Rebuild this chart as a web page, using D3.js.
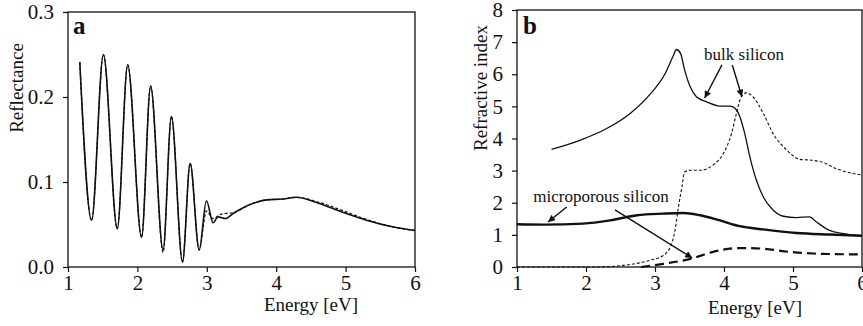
<!DOCTYPE html>
<html>
<head>
<meta charset="utf-8">
<script src="https://cdn.jsdelivr.net/npm/d3@7"></script>
<style>
  html, body { margin: 0; padding: 0; background: #fff; }
  svg { display: block; }
  svg text { font-family: "Liberation Serif", Tinos, "Times New Roman", Times, "DejaVu Serif", serif; }
</style>
</head>
<body>
<div id="chart"></div>
<script>
// Panel a: reflectance vs energy (solid = measured, dashed = fit)
var reflSolid = [
  [1.17, 0.241], [1.34, 0.055], [1.51, 0.250], [1.71, 0.045], [1.86, 0.238],
  [2.06, 0.035], [2.19, 0.213], [2.37, 0.020], [2.49, 0.177], [2.65, 0.006],
  [2.76, 0.122], [2.89, 0.020], [2.995, 0.078], [3.09, 0.052], [3.16, 0.059],
  [3.27, 0.057], [3.38, 0.063], [3.67, 0.075], [3.86, 0.079], [4.10, 0.080],
  [4.29, 0.082], [4.58, 0.076], [4.97, 0.064], [5.30, 0.055], [5.69, 0.047],
  [6.00, 0.043]
];
var reflDashed = [
  [1.17, 0.241], [1.34, 0.055], [1.51, 0.250], [1.71, 0.045], [1.86, 0.238],
  [2.06, 0.035], [2.19, 0.213], [2.37, 0.017], [2.49, 0.177], [2.65, 0.006],
  [2.76, 0.122], [2.89, 0.020], [2.995, 0.066], [3.09, 0.057], [3.20, 0.062],
  [3.38, 0.064], [3.67, 0.075], [3.86, 0.079], [4.10, 0.080], [4.29, 0.082],
  [4.58, 0.077], [4.97, 0.066], [5.30, 0.056], [5.69, 0.047], [6.00, 0.043]
];

// Panel b: refractive index n and extinction k
var bulkN = [
  [1.50, 3.66], [1.92, 3.95], [2.30, 4.31], [2.64, 4.78], [2.93, 5.38],
  [3.15, 6.03], [3.26, 6.55], [3.31, 6.77], [3.37, 6.65], [3.43, 6.13],
  [3.51, 5.61], [3.60, 5.30], [3.75, 5.14], [3.94, 5.01], [4.09, 5.01],
  [4.16, 4.94], [4.23, 4.68], [4.30, 4.16], [4.375, 3.43], [4.47, 2.70],
  [4.57, 2.18], [4.69, 1.82], [4.86, 1.58], [5.05, 1.54], [5.24, 1.56],
  [5.34, 1.40], [5.53, 1.14], [5.73, 1.04], [6.00, 0.97]
];
var bulkK = [
  [1.00, 0.00], [2.16, 0.00], [2.54, 0.05], [2.93, 0.21], [3.12, 0.36],
  [3.22, 0.62], [3.29, 1.14], [3.34, 1.87], [3.39, 2.49], [3.43, 2.96],
  [3.51, 3.01], [3.65, 3.01], [3.84, 3.17], [3.99, 3.53], [4.11, 4.16],
  [4.18, 4.78], [4.25, 5.30], [4.32, 5.42], [4.42, 5.30], [4.57, 4.78],
  [4.71, 4.16], [4.91, 3.64], [5.10, 3.35], [5.29, 3.32], [5.44, 3.25],
  [5.63, 3.06], [6.00, 2.86]
];
var microN = [
  [1.00, 1.33], [1.39, 1.32], [1.96, 1.35], [2.35, 1.45], [2.74, 1.61],
  [3.12, 1.66], [3.41, 1.68], [3.65, 1.61], [3.94, 1.45], [4.23, 1.27],
  [4.57, 1.17], [5.05, 1.06], [5.53, 1.01], [6.00, 0.97]
];
var microK = [
  [2.80, 0.00], [3.12, 0.10], [3.53, 0.26], [3.84, 0.47], [4.23, 0.59],
  [4.57, 0.57], [4.95, 0.47], [5.29, 0.42], [6.00, 0.39]
];

var energyTicks = [1, 2, 3, 4, 5, 6];
var reflTicks = [0, 0.1, 0.2, 0.3];
var indexTicks = [0, 1, 2, 3, 4, 5, 6, 7, 8];

// annotation arrows in data units: [x1, y1, x2, y2]
var bulkArrows = [[3.97, 6.29, 3.72, 5.26], [4.12, 6.29, 4.26, 5.30]];
var microArrows = [[1.72, 1.87, 1.45, 1.40], [2.42, 1.78, 3.54, 0.28]];

var SERIF = '"Liberation Serif", Tinos, "Times New Roman", Times, "DejaVu Serif", serif';
var W = 863, H = 326;
var svg = d3.select('#chart').append('svg')
  .attr('width', W).attr('height', H);
svg.append('rect').attr('width', W).attr('height', H).attr('fill', '#fff');

svg.append('defs').append('marker')
  .attr('id', 'arrow')
  .attr('viewBox', '0 0 10 10')
  .attr('refX', 10).attr('refY', 5)
  .attr('markerWidth', 9).attr('markerHeight', 7)
  .attr('markerUnits', 'userSpaceOnUse')
  .attr('orient', 'auto')
  .append('path').attr('d', 'M0,0L10,5L0,10z').attr('fill', '#111');

function drawFrame(x, y, ticksX, ticksY, fmtY) {
  var x0 = x.range()[0], x1 = x.range()[1];
  var y0 = y.range()[0], y1 = y.range()[1];
  svg.append('rect')
    .attr('x', x0).attr('y', y1)
    .attr('width', x1 - x0).attr('height', y0 - y1)
    .attr('fill', 'none').attr('stroke', '#111').attr('stroke-width', 1.3);

  var ax = svg.append('g').attr('transform', 'translate(0,' + y0 + ')')
    .call(d3.axisBottom(x).tickValues(ticksX).tickSize(5).tickPadding(3).tickFormat(d3.format('d')));
  var ay = svg.append('g').attr('transform', 'translate(' + x0 + ',0)')
    .call(d3.axisLeft(y).tickValues(ticksY).tickSize(5).tickPadding(9).tickFormat(fmtY));
  [ax, ay].forEach(function (a) {
    a.attr('font-family', SERIF).attr('font-size', 21);
    a.select('.domain').remove();
    a.selectAll('line').attr('stroke', '#111').attr('stroke-width', 1.2);
    a.selectAll('text').attr('fill', '#111');
  });
}

function drawLine(x, y, data, width, dash) {
  var line = d3.line()
    .x(function (d) { return x(d[0]); })
    .y(function (d) { return y(d[1]); })
    .curve(d3.curveMonotoneX);
  svg.append('path').datum(data)
    .attr('d', line)
    .attr('fill', 'none')
    .attr('stroke', '#111')
    .attr('stroke-width', width)
    .attr('stroke-dasharray', dash || null);
}

function drawArrows(x, y, arrows) {
  arrows.forEach(function (a) {
    svg.append('line')
      .attr('x1', x(a[0])).attr('y1', y(a[1]))
      .attr('x2', x(a[2])).attr('y2', y(a[3]))
      .attr('stroke', '#111').attr('stroke-width', 1.4)
      .attr('marker-end', 'url(#arrow)');
  });
}

function text(x, y, str, size, opts) {
  opts = opts || {};
  var t = svg.append('text')
    .attr('x', x).attr('y', y)
    .attr('fill', '#111')
    .attr('font-family', SERIF)
    .attr('font-size', size + 'px')
    .attr('text-anchor', opts.anchor || 'start')
    .attr('font-weight', opts.bold ? 'bold' : 'normal')
    .text(str);
  if (opts.rotate) t.attr('transform', 'rotate(-90,' + x + ',' + y + ')');
  return t;
}

// ---- panel a ----
var xA = d3.scaleLinear().domain([1, 6]).range([68, 415]);
var yA = d3.scaleLinear().domain([0, 0.3]).range([267, 12]);
drawFrame(xA, yA, energyTicks, reflTicks, d3.format('.1f'));
drawLine(xA, yA, reflDashed, 1.2, '3,2');
drawLine(xA, yA, reflSolid, 1.6);
text(73, 34, 'a', 25, { bold: true });
text(311, 311, 'Energy [eV]', 19, { anchor: 'middle' });
text(23, 88, 'Reflectance', 19, { anchor: 'middle', rotate: true });

// ---- panel b ----
var xB = d3.scaleLinear().domain([1, 6]).range([517, 862]);
var yB = d3.scaleLinear().domain([0, 8]).range([267, 10]);
drawFrame(xB, yB, energyTicks, indexTicks, d3.format('d'));
drawLine(xB, yB, bulkK, 1.1, '3,2');
drawLine(xB, yB, bulkN, 1.3);
drawLine(xB, yB, microN, 2.4);
drawLine(xB, yB, microK, 2.2, '9,5');
drawArrows(xB, yB, bulkArrows);
drawArrows(xB, yB, microArrows);
text(523, 34, 'b', 25, { bold: true });
text(744, 60, 'bulk silicon', 17, { anchor: 'middle' });
text(601, 202, 'microporous silicon', 17, { anchor: 'middle' });
text(755, 314, 'Energy [eV]', 19, { anchor: 'middle' });
text(487, 88, 'Refractive index', 19, { anchor: 'middle', rotate: true });
</script>
</body>
</html>
